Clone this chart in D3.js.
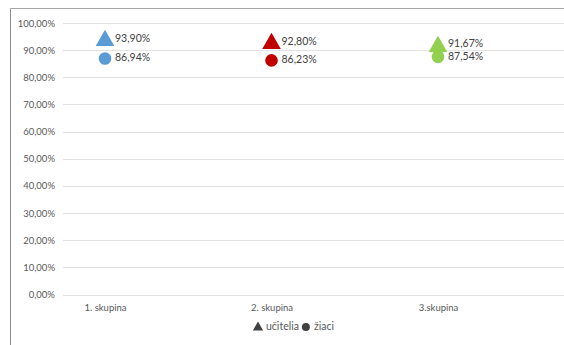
<!DOCTYPE html>
<html>
<head>
<meta charset="utf-8">
<script src="https://cdn.jsdelivr.net/npm/d3@7"></script>
<style>
  html, body { margin: 0; padding: 0; background: #fff; }
  svg { display: block; }
</style>
</head>
<body>
<svg id="chart" width="564" height="345"></svg>
<script>
// Categories and series values (percent)
const categories = ["1. skupina", "2. skupina", "3.skupina"];
const ucitelia = [93.90, 92.80, 91.67];
const ziaci = [86.94, 86.23, 87.54];
const groupColors = ["#5B9BD5", "#C00000", "#92D050"];
const yTicks = [0, 10, 20, 30, 40, 50, 60, 70, 80, 90, 100];
const legendItems = [
  { label: "učitelia", shape: "triangle" },
  { label: "žiaci", shape: "circle" }
];

const fmt = v => v.toFixed(2).replace(".", ",") + "%";
const font = "Lato, 'Open Sans', sans-serif";

const svg = d3.select("#chart");

// Outer chart frame (top and left edges visible)
svg.append("line").attr("x1", 10.5).attr("x2", 564).attr("y1", 8.5).attr("y2", 8.5)
  .attr("stroke", "#a6a6a6").attr("stroke-width", 1);
svg.append("line").attr("x1", 10.5).attr("x2", 10.5).attr("y1", 8.5).attr("y2", 345)
  .attr("stroke", "#8c8c8c").attr("stroke-width", 1);

const plotLeft = 63, plotRight = 570;
const y = d3.scaleLinear().domain([0, 100]).range([294.5, 23]);
const x = d3.scalePoint().domain(categories).range([105, 438]);

// Horizontal gridlines
svg.append("g").selectAll("line").data(yTicks).join("line")
  .attr("x1", plotLeft).attr("x2", plotRight)
  .attr("y1", d => Math.round(y(d)) + 0.5).attr("y2", d => Math.round(y(d)) + 0.5)
  .attr("stroke", "#e3e3e3").attr("stroke-width", 1);

// Y axis labels
const yAxis = d3.axisLeft(y).tickValues(yTicks).tickFormat(d => fmt(d)).tickSize(0).tickPadding(0);
const yg = svg.append("g").attr("transform", "translate(55,0)").call(yAxis);
yg.select(".domain").remove();
yg.selectAll("text").attr("font-family", font).attr("font-size", 9.5).attr("fill", "#595959");

// Category labels
const xAxis = d3.axisBottom(x).tickSize(0).tickPadding(0);
const xg = svg.append("g").attr("transform", "translate(0,304)").call(xAxis);
xg.select(".domain").remove();
xg.selectAll("text").attr("font-family", font).attr("font-size", 9.5).attr("fill", "#595959");

const tri = d3.symbol().type(d3.symbolTriangle).size(150);
const circ = d3.symbol().type(d3.symbolCircle).size(125);

// Students (circles)
svg.append("g").selectAll("path").data(categories).join("path")
  .attr("d", circ)
  .attr("transform", (c, i) => `translate(${x(c)},${y(ziaci[i])})`)
  .attr("fill", (c, i) => groupColors[i]);

// Teachers (triangles)
svg.append("g").selectAll("path").data(categories).join("path")
  .attr("d", tri)
  .attr("transform", (c, i) => `translate(${x(c)},${y(ucitelia[i]) + 1})`)
  .attr("fill", (c, i) => groupColors[i]);

// Value labels, right of each marker; the close pair in the third group is spread apart
function addLabels(values, dyFn) {
  svg.append("g").selectAll("text").data(categories).join("text")
    .attr("x", c => x(c) + 10)
    .attr("y", (c, i) => y(values[i]) + dyFn(i))
    .attr("dominant-baseline", "middle")
    .attr("font-family", font).attr("font-size", 10.5).attr("fill", "#404040")
    .text((c, i) => fmt(values[i]));
}
addLabels(ucitelia, i => (i === 2 ? -1.5 : 0));
addLabels(ziaci, i => (i === 2 ? 1 : 0));

// Legend
const lg = svg.append("g").attr("transform", "translate(258,327)");
let lx = 0;
legendItems.forEach(item => {
  const sym = item.shape === "triangle"
    ? d3.symbol().type(d3.symbolTriangle).size(45)
    : d3.symbol().type(d3.symbolCircle).size(50);
  lg.append("path").attr("d", sym).attr("transform", `translate(${lx},${item.shape === "triangle" ? 0.5 : 0})`)
    .attr("fill", "#404040");
  const t = lg.append("text").attr("x", lx + 8).attr("y", 0)
    .attr("dominant-baseline", "middle")
    .attr("font-family", font).attr("font-size", 10.5).attr("fill", "#595959")
    .text(item.label);
  lx += 8 + t.node().getComputedTextLength() + 7;
});
</script>
</body>
</html>
